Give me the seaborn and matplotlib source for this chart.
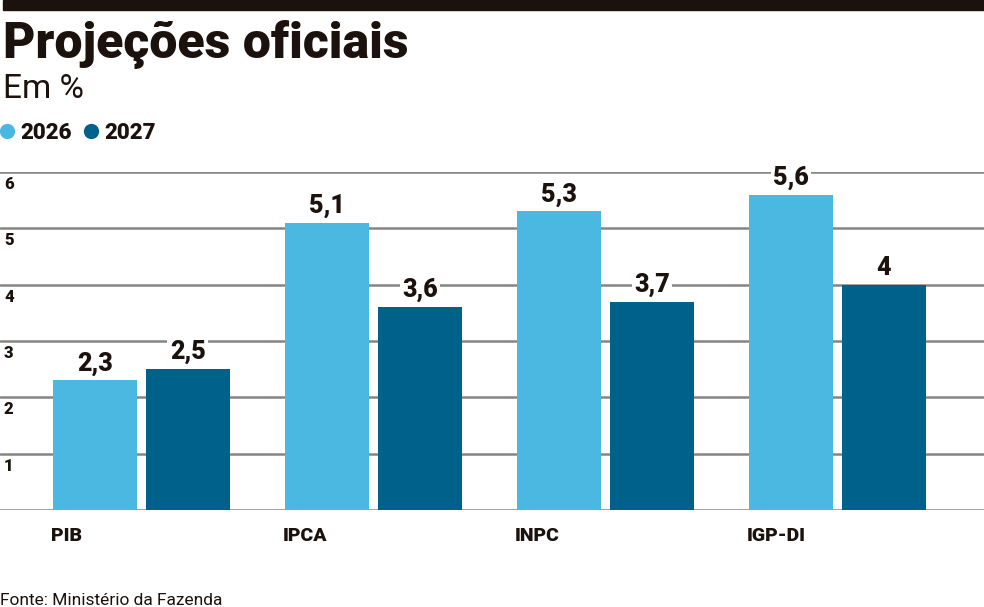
import numpy as np
import pandas as pd
import seaborn as sns
import matplotlib.pyplot as plt
from matplotlib.lines import Line2D

# data
categories = ["PIB", "IPCA", "INPC", "IGP-DI"]
years = ["2026", "2027"]
values_2026 = [2.3, 5.1, 5.3, 5.6]
values_2027 = [2.5, 3.6, 3.7, 4.0]
labels_2026 = ["2,3", "5,1", "5,3", "5,6"]
labels_2027 = ["2,5", "3,6", "3,7", "4"]
y_ticks = [0, 1, 2, 3, 4, 5, 6]

light = "#4bb8e1"
dark = "#00618a"
ink = "#1c120d"

df = pd.DataFrame({
    "cat": categories * 2,
    "ano": [years[0]] * 4 + [years[1]] * 4,
    "val": values_2026 + values_2027,
})

sns.set_theme(style="white")
plt.rcParams['font.family'] = ['Roboto', 'DejaVu Sans']

fig = plt.figure(figsize=(9.84, 6.07), dpi=100)
ax = fig.add_axes([0, 97 / 607, 1, 338 / 607])

sns.barplot(data=df, x="cat", y="val", hue="ano", palette=[light, dark],
            width=0.8, gap=0.1, ax=ax, legend=False, saturation=1,
            edgecolor="none", linewidth=0, zorder=3)

ax.set_xlim(-141.5 / 232, (984 - 141.5) / 232)
ax.set_ylim(0, 6)
ax.set_yticks(y_ticks)
ax.yaxis.grid(True, color="#858585", linewidth=1.8, zorder=0)
ax.tick_params(left=False, bottom=False, labelleft=False, labelbottom=False)
for s in ax.spines.values():
    s.set_visible(False)
ax.set_xlabel("")
ax.set_ylabel("")

# y labels under each gridline
for t in y_ticks[1:]:
    ax.annotate(str(t), xy=(0, t), xycoords=ax.get_yaxis_transform(),
                xytext=(4, -4), textcoords="offset pixels", ha="left", va="top",
                fontsize=12, fontweight="heavy", color=ink)

# value labels (white box knocks out the gridline behind)
all_labels = [labels_2026, labels_2027]
for cont, labs in zip(ax.containers, all_labels):
    for bar, lab in zip(cont, labs):
        ax.annotate(lab, xy=(bar.get_x() + bar.get_width() / 2, bar.get_height()),
                    xytext=(0, 3.5), textcoords="offset points", ha="center", va="bottom",
                    fontsize=18, fontweight="heavy", color=ink, zorder=5,
                    bbox=dict(boxstyle="square,pad=0.1", fc="white", ec="none"))

# category labels, left aligned at the first bar
for bar, c in zip(ax.containers[0], categories):
    ax.annotate(c, xy=(bar.get_x(), 0), xytext=(-2, -12), textcoords="offset points",
                ha="left", va="top", fontsize=14, fontweight="heavy", color=ink)

# header
fig.patches.append(plt.Rectangle((3 / 984, 1 - 10 / 607), 1, 10 / 607,
                                 transform=fig.transFigure, color=ink))
fig.text(3 / 984, 1 - 58 / 607, "Projeções oficiais", fontsize=36, fontweight="heavy",
         color=ink, ha="left", va="baseline")
fig.text(3 / 984, 1 - 98 / 607, "Em %", fontsize=24, fontweight="normal",
         color=ink, ha="left", va="baseline")

handles = [Line2D([], [], marker="o", linestyle="none", markersize=11,
                  markerfacecolor=col, markeredgecolor="none") for col in (light, dark)]
leg = fig.legend(handles, years, loc="center left", bbox_to_anchor=(0.0, 1 - 133 / 607),
                 ncol=2, frameon=False, handlelength=0.6, handletextpad=0.3,
                 columnspacing=0.6, borderaxespad=0, borderpad=0,
                 prop={"family": "Roboto", "weight": "heavy", "size": 16})
for t in leg.get_texts():
    t.set_color(ink)

fig.text(0, 2 / 607, "Fonte: Ministério da Fazenda", fontsize=12.5, color=ink,
         ha="left", va="baseline")

fig.savefig("out.png", dpi=100)
